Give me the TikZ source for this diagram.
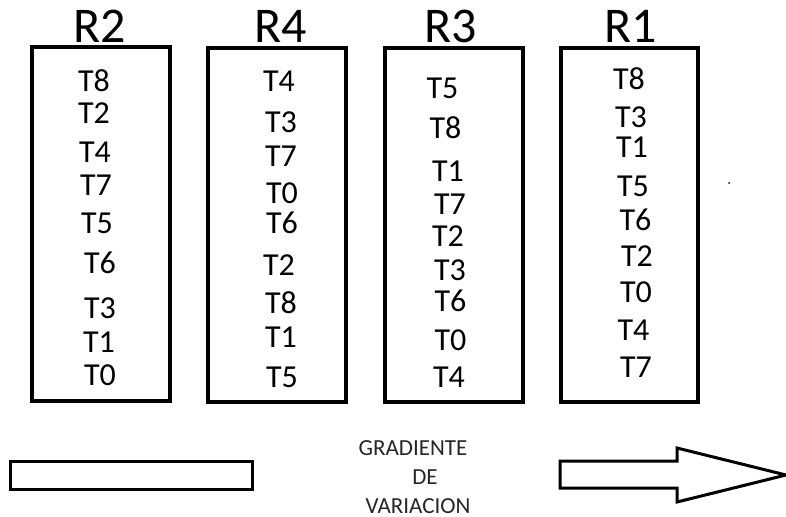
\documentclass[tikz,border=0pt]{standalone}
\usepackage{fontspec}
\setmainfont{Carlito}
\begin{document}
\begin{tikzpicture}[x=1pt,y=-1pt,
  frame/.style={draw=black,line width=3.2pt},
  head/.style={anchor=base,inner sep=0pt,font=\fontsize{50}{50}\selectfont},
  item/.style={anchor=base,inner sep=0pt,font=\fontsize{32}{32}\selectfont},
  caption/.style={anchor=base,inner sep=0pt,text=black!85,font=\fontsize{23}{23}\selectfont}]
\useasboundingbox (0,0) rectangle (786,516);

% column frames
\draw[frame] (32,47) rectangle (170,401);
\draw[frame] (208,48) rectangle (346,402);
\draw[frame] (385,48) rectangle (523,402);
\draw[frame] (561,48) rectangle (698,402);

% column headings
\node[head] (hR2) at (100,43) {R2};
\node[head] (hR4) at (281,43) {R4};
\node[head] (hR3) at (451,43) {R3};
\node[head] (hR1) at (631,43) {R1};

% column R2
\node[item] (a1) at (94,92)  {T8};
\node[item] (a2) at (94,124) {T2};
\node[item] (a3) at (95,162) {T4};
\node[item] (a4) at (96,195) {T7};
\node[item] (a5) at (97,233) {T5};
\node[item] (a6) at (100,273) {T6};
\node[item] (a7) at (100,318) {T3};
\node[item] (a8) at (99,352) {T1};
\node[item] (a9) at (100,385) {T0};

% column R4
\node[item] (b1) at (279,92)  {T4};
\node[item] (b2) at (281,132) {T3};
\node[item] (b3) at (281,166) {T7};
\node[item] (b4) at (282,203) {T0};
\node[item] (b5) at (282,233) {T6};
\node[item] (b6) at (279,275) {T2};
\node[item] (b7) at (281,313) {T8};
\node[item] (b8) at (281,347) {T1};
\node[item] (b9) at (282,387) {T5};

% column R3
\node[item] (c1) at (442.5,99) {T5};
\node[item] (c2) at (445.5,138) {T8};
\node[item] (c3) at (448,181) {T1};
\node[item] (c4) at (450,214) {T7};
\node[item] (c5) at (448,246) {T2};
\node[item] (c6) at (450,280) {T3};
\node[item] (c7) at (450.5,311) {T6};
\node[item] (c8) at (450.5,350) {T0};
\node[item] (c9) at (449,387) {T4};

% column R1
\node[item] (d1) at (629,90)  {T8};
\node[item] (d2) at (631,127) {T3};
\node[item] (d3) at (632,157) {T1};
\node[item] (d4) at (633,196) {T5};
\node[item] (d5) at (635.5,230) {T6};
\node[item] (d6) at (637,266) {T2};
\node[item] (d7) at (636,302) {T0};
\node[item] (d8) at (633.5,340) {T4};
\node[item] (d9) at (636,377) {T7};

% stray dot
\fill (729,183) circle (1pt);

% gradient bar and arrow
\draw[frame,line width=3pt] (10,461) rectangle (252,489);
\draw[frame,line width=3pt,line join=miter]
  (560,461) -- (677,461) -- (677,448) -- (786,475) -- (677,502) -- (677,488) -- (560,488) -- cycle;

% caption
\node[caption] (g1) at (413,455) {GRADIENTE};
\node[caption] (g2) at (425,484) {DE};
\node[caption] (g3) at (418,513) {VARIACION};
\end{tikzpicture}
\end{document}
